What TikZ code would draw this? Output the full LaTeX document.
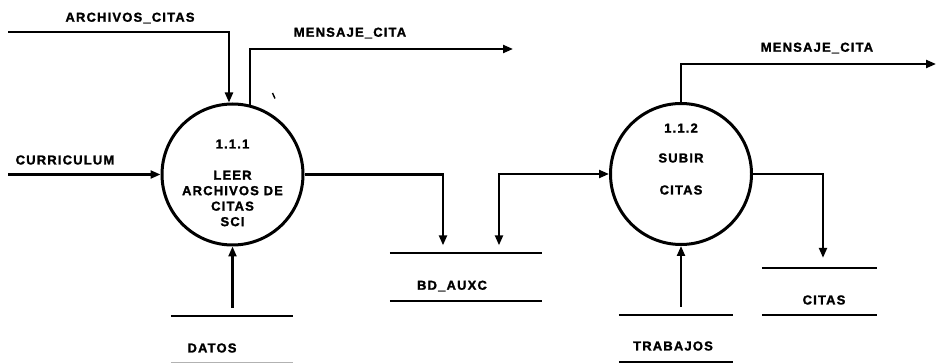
\documentclass[tikz,border=0pt]{standalone}
\usepackage{fontspec}
\setmainfont{Liberation Sans}[LetterSpace=9, BoldFeatures={FakeBold=1.5}]
\usetikzlibrary{arrows.meta}
\tikzset{
  proceso/.style={circle, draw, line width=3pt, minimum size=141pt, inner sep=0pt},
  almacen/.style={minimum height=47pt, minimum width=#1, inner sep=0pt},
  linea/.style={line width=2.2pt},
  flujo/.style={linea, -{Triangle[length=10pt,width=8pt]}},
  texto/.style={font=\bfseries\fontsize{13}{15.5}\selectfont, inner sep=0pt, align=center},
}

\begin{document}
\begin{tikzpicture}[x=1pt,y=-1pt]
		\useasboundingbox (0,0) rectangle (937,363);
		% procesos
		\node[proceso] (p1) at (232.5,174.5) {};
		\node[texto] at ([yshift=30.5pt]p1.center) {1.1.1};
		\node[texto] at ([yshift=-24pt]p1.center) {LEER\\ARCHIVOS DE\\CITAS\\SCI};
		\node[proceso] (p2) at (681,174) {};
		\node[texto] at ([yshift=46pt]p2.center) {1.1.2};
		\node[texto, font=\bfseries\fontsize{13}{32}\selectfont] at (p2.center) {SUBIR\\CITAS};
		% almacenes
		\node[almacen=152pt] (bd) at (466,277) {};
		\node[almacen=115pt] (citas) at (819.5,291.5) {};
		\node[almacen=114pt] (trab) at (676,338.5) {};
		\node[almacen=122pt] (datos) at (232,339.5) {};
		\draw[linea] (bd.north west) -- (bd.north east) (bd.south west) -- (bd.south east);
		\draw[linea] (citas.north west) -- (citas.north east) (citas.south west) -- (citas.south east);
		\draw[linea] (trab.north west) -- (trab.north east) (trab.south west) -- (trab.south east);
		\draw[linea] (datos.north west) -- (datos.north east);
		\draw[linea, black!30] (datos.south west) -- (datos.south east);
		\node[texto] at (452,286) {BD\_AUXC};
		\node[texto] at (824,300) {CITAS};
		\node[texto] at (673,346) {TRABAJOS};
		\node[texto] at (212,348) {DATOS};
		% flujos
		\coordinate (ac) at (8,32);
		\coordinate (cu) at (8,174.5);
		\coordinate (m1) at (513,49);
		\coordinate (m2) at (936,64);
		\draw[flujo] (ac) -| ([xshift=-3.5pt]p1.north);
		\node[texto] at (130,18) {ARCHIVOS\_CITAS};
		\draw[flujo] (p1.76) |- (m1);
		\node[texto] at (350,33) {MENSAJE\_CITA};
		\draw[flujo] (cu) -- (p1.west);
		\node[texto] at (65,160) {CURRICULUM};
		\draw[flujo, shorten >=8pt] (p1.east) -| ([xshift=-23pt]bd.north);
		\draw[linea, {Triangle[length=10pt,width=8pt]}-{Triangle[length=10pt,width=8pt]}, shorten <=8pt] ([xshift=33pt]bd.north) |- (p2.west);
		\draw[flujo] (p2.north) |- (m2);
		\node[texto] at (817,48) {MENSAJE\_CITA};
		\draw[flujo, shorten >=10pt] (p2.east) -| ([xshift=3.5pt]citas.north);
		\draw[flujo, shorten <=8pt] (p2.south |- trab.north) -- (p2.south);
		\draw[flujo, shorten <=8pt] (p1.south |- datos.north) -- (p1.south);
		\draw[line width=1.4pt] (272.5,93) -- (275,98.5); % marca
	\end{tikzpicture}
\end{document}
